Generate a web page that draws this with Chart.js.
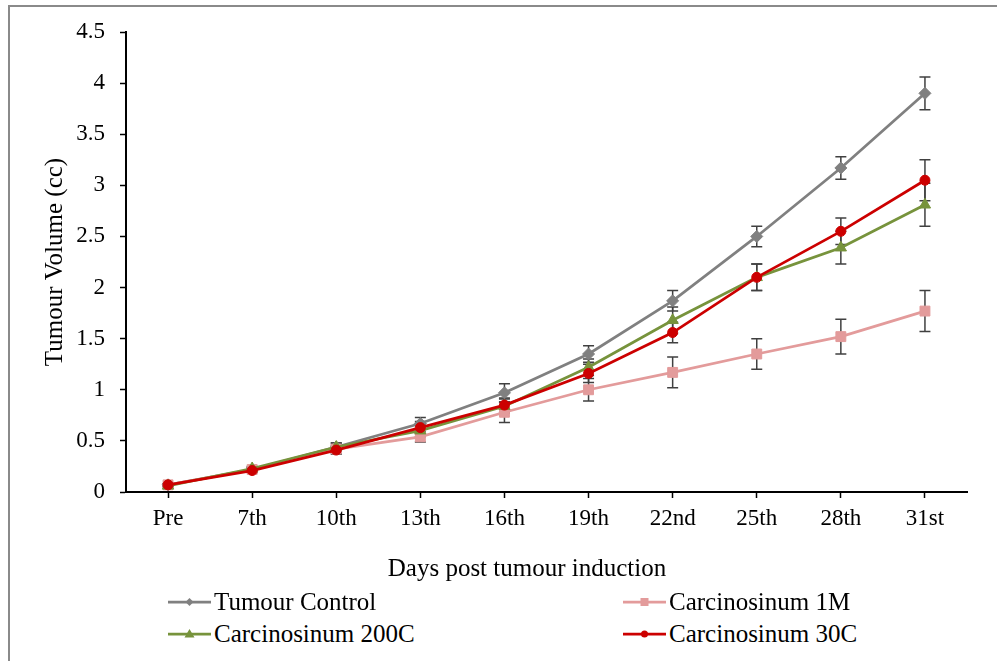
<!DOCTYPE html>
<html lang="en">
<head>
  <meta charset="utf-8" />
  <title>Tumour Volume</title>
  <script src="https://cdn.jsdelivr.net/npm/chart.js@4.4.1/dist/chart.umd.min.js"></script>
  <style>
    * { box-sizing: border-box; }
    html, body { margin: 0; padding: 0; background: #fff; overflow: hidden; }
    body { width: 997px; height: 661px; position: relative; font-family: "Liberation Serif", "Times New Roman", serif; }
    .frame { position: absolute; left: 8px; top: 5px; width: 1200px; height: 900px; border: 2px solid #8a8a8a; }
    .plot { position: absolute; left: 0; top: 0; width: 997px; height: 600px; }
    .x-title { position: absolute; left: 527px; top: 553px; transform: translateX(-50%); font-size: 25px; line-height: 30px; white-space: nowrap; color: #000; }
    .legend-item { position: absolute; height: 30px; display: flex; align-items: center; font-size: 25px; color: #000; white-space: nowrap; }
    .legend-item canvas { margin-right: 3px; }
  </style>
</head>
<body>
  <div class="frame"></div>
  <div class="plot"><canvas id="chart"></canvas></div>
  <div class="x-title">Days post tumour induction</div>
  <div id="legend"></div>

  <script>
    // values
    const days = ['Pre', '7th', '10th', '13th', '16th', '19th', '22nd', '25th', '28th', '31st'];

    const control    = [0.07, 0.22, 0.44, 0.67, 0.97, 1.35, 1.87, 2.50, 3.17, 3.90];
    const controlErr = [0.01, 0.02, 0.04, 0.06, 0.09, 0.08, 0.10, 0.10, 0.11, 0.16];

    const c1M    = [0.07, 0.22, 0.42, 0.54, 0.78, 1.00, 1.17, 1.35, 1.52, 1.77];
    const c1MErr = [0.01, 0.02, 0.04, 0.05, 0.10, 0.11, 0.15, 0.15, 0.17, 0.20];

    const c200C    = [0.06, 0.23, 0.44, 0.60, 0.84, 1.22, 1.68, 2.10, 2.39, 2.81];
    const c200CErr = [0.01, 0.02, 0.04, 0.06, 0.07, 0.08, 0.13, 0.13, 0.16, 0.21];

    const c30C    = [0.07, 0.21, 0.41, 0.63, 0.85, 1.16, 1.56, 2.10, 2.55, 3.05];
    const c30CErr = [0.01, 0.02, 0.04, 0.06, 0.07, 0.09, 0.10, 0.13, 0.13, 0.20];

    const FONT = '"Liberation Serif", "Times New Roman", serif';

    function series(label, data, errors, color, pointStyle, radius, order) {
      return {
        label, data, errors, order, pointStyle,
        borderColor: color, backgroundColor: color,
        pointBackgroundColor: color, pointBorderColor: color,
        borderWidth: 2.75, pointRadius: radius, pointBorderWidth: 1,
        tension: 0, fill: false
      };
    }

    // Excel-style vertical error bars with caps
    const errorBars = {
      id: 'errorBars',
      beforeDatasetsDraw(chart) {
        const ctx = chart.ctx;
        const yScale = chart.scales.y;
        ctx.save();
        ctx.strokeStyle = '#404040';
        ctx.lineWidth = 1.5;
        chart.data.datasets.forEach((ds, i) => {
          const meta = chart.getDatasetMeta(i);
          meta.data.forEach((pt, j) => {
            const v = ds.data[j], e = ds.errors[j];
            const top = yScale.getPixelForValue(v + e);
            const bot = yScale.getPixelForValue(v - e);
            const x = pt.x, cap = 5.5;
            ctx.beginPath();
            ctx.moveTo(x, top); ctx.lineTo(x, bot);
            ctx.moveTo(x - cap, top); ctx.lineTo(x + cap, top);
            ctx.moveTo(x - cap, bot); ctx.lineTo(x + cap, bot);
            ctx.stroke();
          });
        });
        ctx.restore();
      }
    };

    const datasets = [
      series('Tumour Control', control, controlErr, '#808080', 'rectRot', 6, 4),
      series('Carcinosinum 1M', c1M, c1MErr, '#E39B9B', 'rect', 7, 3),
      series('Carcinosinum 200C', c200C, c200CErr, '#77933C', 'triangle', 6.5, 2),
      series('Carcinosinum 30C', c30C, c30CErr, '#CC0000', 'circle', 5, 1)
    ];

    const chart = new Chart(document.getElementById('chart'), {
      type: 'line',
      data: { labels: days, datasets },
      plugins: [errorBars],
      options: {
        responsive: true,
        maintainAspectRatio: false,
        animation: false,
        layout: { padding: { left: 40, top: 32, right: 30, bottom: 17 } },
        plugins: { legend: { display: false }, tooltip: { enabled: false } },
        scales: {
          x: {
            offset: true,
            ticks: { color: '#000', font: { family: FONT, size: 23 }, padding: 7, maxRotation: 0, autoSkip: false },
            grid: { drawOnChartArea: false, offset: false, tickLength: 6, tickColor: '#000', tickWidth: 1.5 },
            border: { color: '#000', width: 2 },
            afterFit(s) { s.height = 91; }
          },
          y: {
            min: 0, max: 4.5,
            ticks: {
              stepSize: 0.5, color: '#000', font: { family: FONT, size: 23 }, padding: 15,
              callback: (v) => String(Number(v.toFixed(1)))
            },
            grid: { drawOnChartArea: false, tickLength: 6, tickColor: '#000', tickWidth: 1.5 },
            border: { color: '#000', width: 2 },
            title: { display: true, text: 'Tumour Volume (cc)', color: '#000', font: { family: FONT, size: 25 }, padding: 0 },
            afterFit(s) { s.width = 86; }
          }
        }
      }
    });

    // two-column legend under the x title
    function drawSample(canvas, ds) {
      const c = canvas.getContext('2d');
      const w = canvas.width, h = canvas.height, cx = w / 2, cy = h / 2;
      c.strokeStyle = ds.borderColor;
      c.lineWidth = 2.75;
      c.beginPath(); c.moveTo(0, cy); c.lineTo(w, cy); c.stroke();
      c.fillStyle = ds.borderColor;
      c.beginPath();
      if (ds.pointStyle === 'rectRot') {
        c.moveTo(cx, cy - 4); c.lineTo(cx + 4, cy); c.lineTo(cx, cy + 4); c.lineTo(cx - 4, cy);
      } else if (ds.pointStyle === 'rect') {
        c.rect(cx - 4, cy - 4, 8, 8);
      } else if (ds.pointStyle === 'triangle') {
        c.moveTo(cx, cy - 5); c.lineTo(cx + 5, cy + 3.5); c.lineTo(cx - 5, cy + 3.5);
      } else {
        c.arc(cx, cy, 3.5, 0, Math.PI * 2);
      }
      c.closePath(); c.fill();
    }

    const legendSpots = [[168, 587], [623, 587], [168, 619], [623, 619]];
    const legendEl = document.getElementById('legend');
    datasets.forEach((ds, i) => {
      const item = document.createElement('div');
      item.className = 'legend-item';
      item.style.left = legendSpots[i][0] + 'px';
      item.style.top = legendSpots[i][1] + 'px';
      const sample = document.createElement('canvas');
      sample.width = 43; sample.height = 14;
      drawSample(sample, ds);
      item.appendChild(sample);
      item.appendChild(document.createTextNode(ds.label));
      legendEl.appendChild(item);
    });
  </script>
</body>
</html>
